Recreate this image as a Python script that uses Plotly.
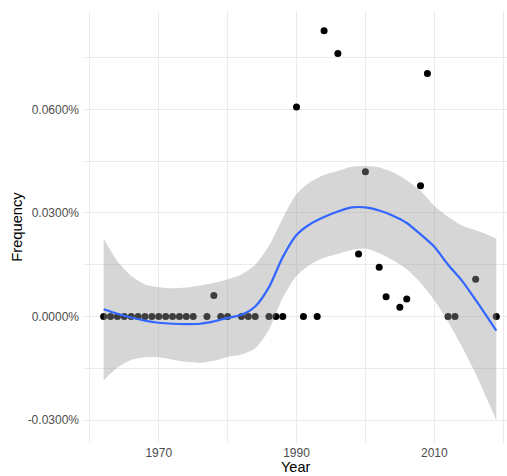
import plotly.graph_objects as go

# Observed yearly frequency (percent)
years = [1962, 1963, 1964, 1965, 1966, 1967, 1968, 1969, 1970, 1971, 1972, 1973, 1974, 1975,
         1977, 1978, 1979, 1980, 1982, 1983, 1984, 1986, 1987, 1988, 1990, 1991, 1993,
         1994, 1996, 1999, 2000, 2002, 2003, 2005, 2006, 2008, 2009, 2012, 2013, 2016, 2019]
freq = [0, 0, 0, 0, 0, 0, 0, 0, 0, 0, 0, 0, 0, 0,
        0, 0.0061, 0, 0, 0, 0, 0, 0, 0, 0, 0.0607, 0, 0,
        0.0828, 0.0762, 0.0181, 0.0419, 0.0143, 0.0057, 0.0027, 0.0051, 0.0379, 0.0704,
        0, 0, 0.0108, 0]

# Loess smooth with its confidence band (percent)
smooth_years = [1962, 1964, 1966, 1968, 1970, 1972, 1974, 1976, 1978, 1980,
                1982, 1984, 1986, 1988, 1990, 1992, 1994, 1996, 1998, 2000,
                2002, 2004, 2006, 2008, 2010, 2012, 2014, 2016, 2018, 2019]
smooth_fit = [0.0021, 0.0008, -0.0003, -0.0012, -0.0018, -0.0021, -0.0022, -0.0021, -0.0014, -0.0004,
              0.0005, 0.0029, 0.0085, 0.0172, 0.0236, 0.0268, 0.0288, 0.0304, 0.0316, 0.0316,
              0.0307, 0.0292, 0.0271, 0.0238, 0.0202, 0.0150, 0.0104, 0.0048, -0.0011, -0.0041]
smooth_hi = [0.0226, 0.0160, 0.0118, 0.0093, 0.0085, 0.0082, 0.0084, 0.0090, 0.0097, 0.0108,
             0.0122, 0.0150, 0.0205, 0.0285, 0.0355, 0.0390, 0.0410, 0.0422, 0.0434, 0.0436,
             0.0432, 0.0418, 0.0395, 0.0364, 0.0320, 0.0289, 0.0264, 0.0250, 0.0235, 0.0226]
smooth_lo = [-0.0185, -0.0148, -0.0126, -0.0118, -0.0118, -0.0125, -0.0131, -0.0134, -0.0128, -0.0117,
             -0.0110, -0.0092, -0.0038, 0.0054, 0.0118, 0.0151, 0.0170, 0.0182, 0.0193, 0.0197,
             0.0183, 0.0163, 0.0137, 0.0098, 0.0047, -0.0015, -0.0087, -0.0166, -0.0255, -0.0301]

y_tick_vals = [-0.03, 0.0, 0.03, 0.06]
y_tick_text = ["-0.0300%", "0.0000%", "0.0300%", "0.0600%"]
x_tick_vals = [1970, 1990, 2010]

fig = go.Figure()

fig.add_trace(go.Scatter(
    x=years, y=freq, mode="markers",
    marker=dict(color="black", size=7, line=dict(width=0)),
    hoverinfo="skip", showlegend=False,
))

# confidence band drawn over the points, as ggplot does
fig.add_trace(go.Scatter(
    x=smooth_years, y=smooth_lo, mode="lines",
    line=dict(width=0, shape="spline", smoothing=0.7),
    hoverinfo="skip", showlegend=False,
))
fig.add_trace(go.Scatter(
    x=smooth_years, y=smooth_hi, mode="lines", fill="tonexty",
    fillcolor="rgba(153,153,153,0.4)",
    line=dict(width=0, shape="spline", smoothing=0.7),
    hoverinfo="skip", showlegend=False,
))
fig.add_trace(go.Scatter(
    x=smooth_years, y=smooth_fit, mode="lines",
    line=dict(color="#3366FF", width=2.2, shape="spline", smoothing=0.7),
    hoverinfo="skip", showlegend=False,
))

grid = "#EBEBEB"
fig.update_layout(
    width=507, height=476,
    margin=dict(l=84, r=0, t=11, b=33),
    paper_bgcolor="white", plot_bgcolor="white",
    font=dict(family="Liberation Sans, Arial, sans-serif", color="#4D4D4D", size=12),
    xaxis=dict(
        range=[1959.15, 2020.55],
        tickvals=x_tick_vals, ticktext=[str(v) for v in x_tick_vals],
        showgrid=True, gridcolor=grid, gridwidth=1.1,
        minor=dict(tickvals=[1960, 1980, 2000, 2020], showgrid=True, gridcolor=grid, gridwidth=0.6),
        zeroline=False, showline=False, ticks="",
        ticklabelstandoff=1,
    ),
    yaxis=dict(
        range=[-0.03664, 0.0885],
        tickvals=y_tick_vals, ticktext=y_tick_text,
        showgrid=True, gridcolor=grid, gridwidth=1.1,
        minor=dict(tickvals=[-0.015, 0.015, 0.045, 0.075], showgrid=True, gridcolor=grid, gridwidth=0.6),
        zeroline=False, showline=False, ticks="",
        ticklabelstandoff=4,
        title=dict(text="Frequency", font=dict(size=14.7, color="black"), standoff=1),
    ),
    annotations=[dict(
        text="Year", xref="paper", yref="paper", x=0.5, y=-0.0755,
        xanchor="center", yanchor="bottom", showarrow=False, borderpad=0,
        font=dict(size=14.5, color="black"),
    )],
)

fig.write_html("out.html")
